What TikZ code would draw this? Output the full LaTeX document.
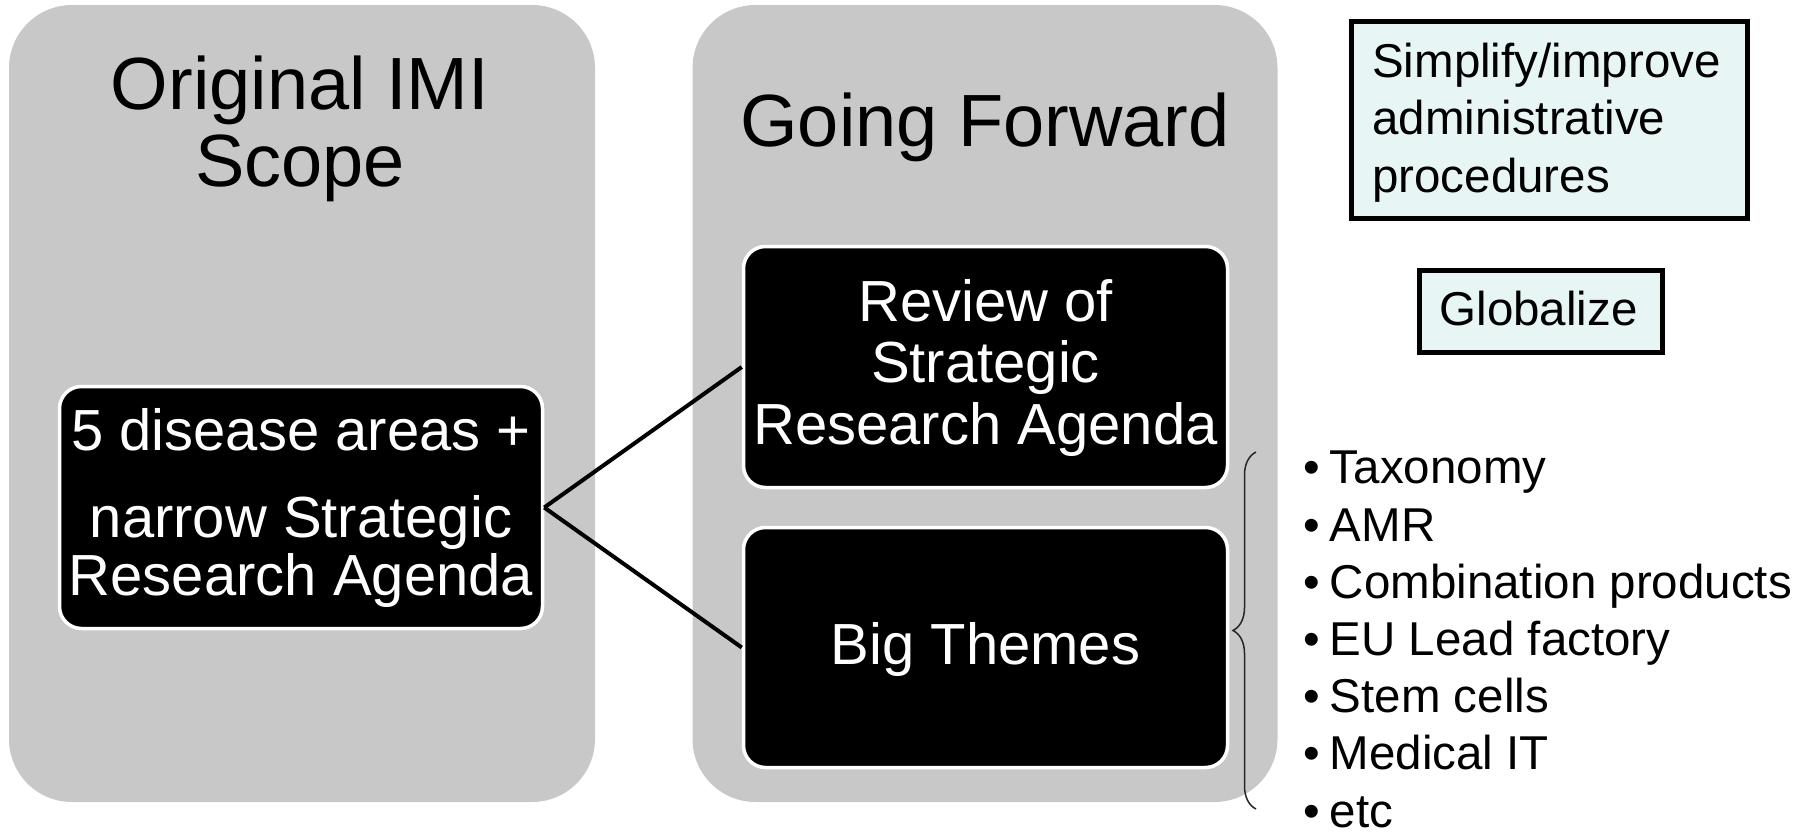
\documentclass[tikz,border=0pt]{standalone}
\usepackage{fontspec}
\setmainfont{Liberation Sans}
\usetikzlibrary{decorations.pathreplacing}
\definecolor{panelgrey}{RGB}{200,200,200}
\definecolor{paleblue}{RGB}{232,245,245}
\begin{document}
\begin{tikzpicture}[x=1pt,y=-1pt,
 panel/.style={fill=panelgrey, rounded corners=63pt, inner sep=0pt},
 blackbox/.style={draw=white, line width=3.5pt, fill=black, rounded corners=22pt, inner sep=0pt},
 notebox/.style={draw=black, line width=5pt, fill=paleblue, inner sep=0pt},
 titletxt/.style={font=\fontsize{74}{77}\selectfont, align=center, anchor=base, inner sep=0pt},
 wtxt/.style={text=white, font=\fontsize{58}{61.5}\selectfont, align=center, anchor=base, inner sep=0pt},
 ntxt/.style={font=\fontsize{47.5}{57.2}\selectfont, align=left, anchor=base west, inner sep=0pt},
 link/.style={line width=4pt},
 bracestyle/.style={decorate, decoration={brace, amplitude=23pt}, line width=1.5pt, draw=black!85},
]
\useasboundingbox (0,0) rectangle (1804,833);
% panels
\node[panel, minimum width=586pt, minimum height=797pt] (p1) at (302,403.5) {};
\node[panel, minimum width=585pt, minimum height=797pt] (p2) at (985,403.5) {};
% titles
\node[titletxt] (t1) at (300,186) {Original IMI\\Scope};
\node[titletxt] (t2) at (985,146) {Going Forward};
% black boxes
\node[blackbox, minimum width=483pt, minimum height=242pt] (scope) at (301,507.5) {};
\node[blackbox, minimum width=484pt, minimum height=241pt] (rev) at (985.5,367) {};
\node[blackbox, minimum width=484pt, minimum height=240pt] (big) at (985.5,647.5) {};
\node[wtxt, font=\fontsize{58}{58}\selectfont] (scopetxt) at (301,595) {5 disease areas +\\[29pt]narrow Strategic\\Research Agenda};
\node[wtxt] (revtxt) at (985.5,444) {Review of\\Strategic\\Research Agenda};
\node[wtxt] (bigtxt) at (985.5,664) {Big Themes};
% connectors
\draw[link] (scope.east) -- (rev.west);
\draw[link] (scope.east) -- (big.west);
% brace
\coordinate (bbot) at (1256,809);
\coordinate (btop) at (1256,452);
\draw[bracestyle] (bbot) -- (btop);
% note boxes
\node[notebox, minimum width=396pt, minimum height=197pt] (simp) at (1549.5,120) {};
\node[ntxt] (simptxt) at (1372,192) {Simplify/improve\\administrative\\procedures};
\node[notebox, minimum width=243pt, minimum height=82pt] (glob) at (1541,311.5) {};
\node[ntxt, anchor=base] (globtxt) at (1538.5,325) {Globalize};
% bullet list
\node[ntxt] (list) at (1303,827) {•\hspace{10pt}Taxonomy\\•\hspace{10pt}AMR\\•\hspace{10pt}Combination products\\•\hspace{10pt}EU Lead factory\\•\hspace{10pt}Stem cells\\•\hspace{10pt}Medical IT\\•\hspace{10pt}etc};
\end{tikzpicture}
\end{document}
